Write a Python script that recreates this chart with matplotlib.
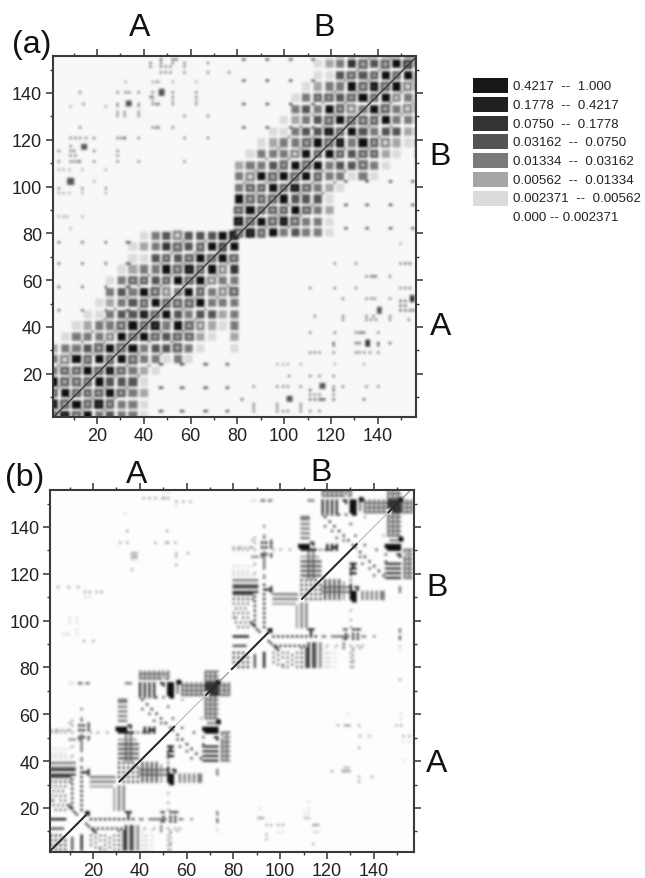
import numpy as np
import matplotlib
matplotlib.use('Agg')
import matplotlib.pyplot as plt
from matplotlib.patches import Rectangle

plt.rcParams['font.family'] = ['Liberation Sans', 'DejaVu Sans']

W, H = 645, 879

# legend classes, darkest first
legend_labels = ['0.4217  --  1.000', '0.1778  --  0.4217', '0.0750  --  0.1778',
                 '0.03162  --  0.0750', '0.01334  --  0.03162', '0.00562  --  0.01334',
                 '0.002371  --  0.00562', '0.000 -- 0.002371']
legend_grays = [0.09, 0.13, 0.2, 0.33, 0.48, 0.65, 0.86]
# gray of level 0..7
level_gray = [1.0, 0.86, 0.65, 0.48, 0.33, 0.2, 0.13, 0.06]

cells_a = [
    'cfc73433100000000',
    'fc7cfc33100000000',
    'c7ccc7c3200000000',
    '7ccc7444100000000',
    '3cc7cfc3210000000',
    '3b7c7c7c331310000',
    '2334c7c7344c31001',
    '01333b7c7c4cc2102',
    '001233c7cf37cb213',
    '00011344fc7434423',
    '00001234c7ccc7333',
    '000003437cb37c3bc',
    '0000013cc4c7c7b33',
    '00000012337cfc7b5',
    '0000000114c4c7c7c',
    '00000001235c4c7d7',
    '00000000134b4447f',
]
block_shift_a = (78.8, 78.0)

# (a): off-band contacts (y, x values, level)
far_a = [
    (153.8, [47, 52, 53.4], 4), (152.4, [42.7, 47, 52, 56.9, 66.9], 3), (151, [42.7, 47, 49, 51.2, 56.9], 3),
    (148.5, [47, 49, 51.2, 56.9, 66.9, 76.1], 3), (144.6, [32, 43.4, 44.8, 46.2, 51.9, 61.9], 2),
    (140, [12.7, 28.4, 32, 33.4, 37.7, 43.4, 51.9, 61.9], 3), (138, [42.7, 43.4, 51.9, 61.9], 3),
    (136.4, [43.4, 51.9, 61.9], 2), (135, [14, 28.4, 37.7, 43.4, 44.8, 46.2, 51.9, 61.9], 3),
    (133.9, [8.5, 23.4, 28.4, 37.7], 2), (131.7, [28.4, 31.5, 37.7], 3), (130, [28.4, 31.5, 37.7, 56.9, 66.9], 3),
    (125, [12.7, 43.4, 44.8, 46.2, 51.9], 3), (120.6, [8.5, 10.6, 12.7, 14.9, 18.4, 28.4, 29.8, 37.7, 56.9, 66.9], 3),
    (120.6, [31.5], 5), (116.8, [8.5], 3), (115, [3.5, 8.5, 10, 18.4, 28.4], 3), (113, [8.5, 10.6, 28.4], 3),
    (110.6, [3.5, 8.5, 10, 11.5, 12.7, 18.4, 28.4, 37.7, 56.9], 3), (106.8, [3.5, 5.6, 7.8, 13.5, 23.4], 2),
    (102, [18.4], 2), (99, [3.5, 13.5, 23.4], 3), (97, [3.5, 5.6, 7.8, 13.5, 23.4], 2),
    (86.9, [3.5, 5.6, 7.2, 13.5], 2), (81.9, [8.5], 2),
    (75.5, [149], 2), (67, [120.9, 129.8, 148.9], 3), (67, [150.8, 153], 4),
    (61.7, [134.4, 136.5, 137.5, 138.7, 144.4], 3), (56.7, [110.6, 120.9, 129.8, 149, 150.8, 153], 3),
    (52, [124.4, 134.4, 136.5, 138, 144.4], 3), (50.8, [149, 151], 4), (48.9, [149, 151], 4),
    (47, [149, 151, 153, 154.5], 4), (44.6, [112.3, 124.4, 134.4, 137.3, 144.4], 3),
    (43.2, [124.4, 134.4, 136.5, 138.7, 144.4, 152.6], 3), (37.7, [110.6, 120.9, 129.8, 131.6, 132.6, 133.7, 139.7], 3),
    (33, [120.6, 129.8, 131.6, 139.7, 144.4], 4), (31.8, [120.6, 139.7], 3),
    (28.9, [110.6, 112.3, 114.5, 120.6, 129.8, 131.6, 133.7, 135.8, 139.7], 3),
    (23.9, [96.7, 98.8, 101, 106.3, 120.9, 133.7], 2), (19.2, [101.6, 110.6, 114.5, 120.6], 3),
    (14.7, [86.4, 96.7, 98.8, 101, 106.3, 120.6, 124.4, 134.4, 139.4], 3), (13, [110.6, 120.6], 4),
    (11, [110.6, 112.3, 114.5, 120.6], 3), (9.2, [81.4, 110.6, 112.3, 114.5, 115.5, 116.6, 120.6, 133.7], 4),
    (7, [86.4, 96.7, 106.3], 3), (5.5, [86.4, 96.7, 106.3], 3), (4, [86.4, 96.7, 98.8, 101, 106.3, 110.6, 114.5], 3),
]
# (a): larger blobs (x, y, level)
blobs_a = [(47.4, 140, 4), (33.4, 135.3, 4), (14.2, 116.8, 4), (8.5, 102, 4), (140, 47, 4), (154, 52, 5),
           (135, 33, 5), (115.9, 14.7, 4), (101.6, 9.2, 4)]
# (a): regular dots outside the bands
grid_xs_a = [3.5, 13.5, 23.5, 33]
grid_ys_a = [47, 57, 67, 76]
grid_xs2_a = [47, 56, 66, 75.4]
grid_ys2_a = [4, 14, 24]

# (b): contacts of one chain, (residues i, residues j, level); the map is symmetric
R = lambda a, b, s=1: list(range(a, b + 1, s))
contacts_b = [
    (R(2, 12), [39], 3), (R(2, 12), [37], 3), (R(2, 12), [36], 5), (R(2, 12), [34], 5), (R(2, 10), [33], 4),
    (R(2, 10, 2), [31], 4), (R(2, 8, 2), [29], 3), (R(3, 7, 2), [27], 3), ([2, 4, 6, 8], [25], 3),
    ([2, 3, 6, 8], [23], 3), ([3, 5, 7, 10], [21], 3), ([4, 6, 8, 11], [19], 3),
    ([15], R(19, 38, 2), 6), ([11], R(20, 37, 2), 5), ([13], [17], 5), ([12], [18], 5), ([10], [20], 5),
    ([9], [21], 4), (R(2, 7), [11], 4), (R(2, 8), [15], 6), (R(2, 6, 2), R(4, 8, 2), 5),
    ([15], [41, 45, 47, 49, 51, 53, 55, 58, 62], 3), ([14, 16, 18], [55, 53, 50], 5),
    ([2, 4, 5, 7, 9, 10], [53], 2), ([10, 12, 14], [49], 3), (R(2, 10, 2), [45], 1), (R(2, 10, 2), [41], 1), ([10], [56], 2),
    ([14], [73], 4), ([17, 18], [73], 3), ([10], [73], 1), ([35, 36], [73], 3),
    ([16, 17, 18], [35], 5), (R(19, 29), [33], 3), (R(19, 29), [31], 3), (R(19, 28), [29], 2),
    (R(31, 38, 2), R(33, 39, 2), 5), (R(31, 39), R(41, 47, 2), 4), (R(31, 38), [49], 2),
    (R(31, 37), [52], 6), ([39, 41, 43], [52], 3), ([45, 46], [53], 6), ([35, 36], [55], 5), ([36], [54], 5),
    (R(31, 34), [57, 59, 61, 63, 65, 66], 3),
    ([41], [66], 5), ([43], [64], 5), ([45], [62], 5), ([47], [60], 5), ([49], [58], 5), ([51], [56], 5), ([53], [54], 5),
    ([47], [67], 4), ([50], [67], 4), ([52], [63], 4), ([54], [58], 4), ([41], [62], 4), ([44], [60], 4), ([46], [57], 4), ([49], [56], 4),
    (R(40, 52, 2), [78, 76], 3), (R(41, 51, 2), [77, 75], 3), (R(40, 46, 2), R(67, 72), 4), ([53, 54], R(67, 73), 7), ([49, 54, 56], [73], 6),
    (R(58, 67), [68, 70, 72], 3), ([58], [66], 2),
    (R(68, 73), [74, 76, 78], 3), (R(68, 72), R(70, 73), 5), (R(74, 78), [68, 70, 72], 3), ([73, 74], [73, 74], 7),
    (R(69, 73), R(56, 66, 2), 3), ([73, 74], [56, 57], 7), (R(68, 73), [52], 7), (R(75, 78), [52], 3), ([72, 73], [50], 5), ([76, 77, 78], [50], 2),
    (R(68, 73), R(40, 46, 2), 5), (R(75, 78), R(40, 49, 2), 3), ([73], [34, 36], 3),
    ([52, 53, 54], [42, 44, 46], 6), ([53, 54], R(30, 34), 7), ([52], [26, 22, 19, 8, 6, 4, 2], 2), (R(40, 52), [36, 34], 3),
    ([34, 35, 36], [18], 5), ([49, 54, 56, 73], [18], 3), ([40, 44, 46, 48, 50, 53, 55, 57, 73], [15], 3),
    ([42, 46, 49, 52, 55, 57], [11], 2), ([73], [11], 1), ([42, 43], [2, 4, 6, 8], 1),
]
# (b): faint contacts between the chains, (y, x values, level)
far_b = [
    (154.8, [50, 52], 1), (152, [41.5, 44.3, 46.5, 49.4, 50.5, 52.3], 2), (150.8, [55.8, 58.6, 61.5], 2),
    (148.7, [55.8], 1), (145.5, [33.7], 1), (138, [34.4, 51.5], 2), (133.4, [31.5, 34.4, 46.5, 51, 52, 55], 2),
    (128.9, [36.5, 37.5, 38.7, 55.8, 60.7], 2), (127, [36.5, 37.5, 38.7, 55.8], 2), (126, [36.5, 37.5, 38.7], 1),
    (123.8, [55.8], 2), (121.8, [36.5], 2), (114.2, [5.2, 9.5, 13.7], 2), (112, [16.6, 18.7, 21.6, 23.7], 2),
    (110, [16.6, 18.7], 1), (101.4, [9.9, 13.3], 1), (99.3, [9.9, 13.3], 1), (96, [13.3], 1),
    (94.3, [7.3, 8.4, 9.5, 13.3], 1), (91, [16, 20], 2),
    (74.6, [151.3], 2), (60, [129.3, 151.5], 1), (57.8, [151.5], 1),
    (55, [124.4, 127.5, 128.6, 129.7, 133.5, 149.6, 151.5], 2), (50.7, [134, 138.2, 152.5, 155.3], 2),
    (48, [152.5, 155.3], 1), (45.7, [133.5], 2), (40, [152.5], 1), (37, [127.5, 129], 2),
    (35.7, [122.3, 126.8, 127.8, 128.8, 129.7], 2), (33, [133.5, 139.2], 2), (31.4, [133.5], 2),
    (22.9, [112.3], 1), (19.8, [91.2, 112.3], 1), (17.6, [110.5, 112.3], 1), (15.8, [90.5, 91.6, 92.7, 110.5, 112.3], 2),
    (12.6, [94, 96.2, 99, 101.2, 114, 115, 116], 2), (9.6, [99, 101.2, 114, 115, 116], 1),
    (8.6, [94], 2), (6.8, [94], 2), (4.7, [114], 2),
]
# (b): diagonal stretches of one chain (from, to, level)
diag_b = [(1, 17, 7), (31, 55, 7), (55, 68, 2), (68, 74, 7), (74, 78, 3)]


def px_box(left, top, right, bottom):
    return [left / W, 1 - bottom / H, (right - left) / W, (bottom - top) / H]


def px(x, y):
    return x / W, 1 - y / H


class Raster:
    def __init__(self, xlim, ylim, paper, step=0.5):
        self.xlim, self.ylim, self.step = xlim, ylim, step
        nx = int((xlim[1] - xlim[0]) / step)
        ny = int((ylim[1] - ylim[0]) / step)
        self.m = np.full((ny, nx), paper)

    def stamp(self, x, y, w, h, gray, force=False):
        x0 = int(round((x - w / 2 - self.xlim[0]) / self.step))
        x1 = int(round((x + w / 2 - self.xlim[0]) / self.step))
        y0 = int(round((y - h / 2 - self.ylim[0]) / self.step))
        y1 = int(round((y + h / 2 - self.ylim[0]) / self.step))
        x0, y0 = max(x0, 0), max(y0, 0)
        x1 = max(x1, x0 + 1)
        y1 = max(y1, y0 + 1)
        if force:
            self.m[y0:y1, x0:x1] = gray
        else:
            self.m[y0:y1, x0:x1] = np.minimum(self.m[y0:y1, x0:x1], gray)

    def blurred(self):
        # soften like the scan of the printed page
        kernel = np.array([1, 4, 6, 4, 1]) / 16
        m = np.pad(self.m, 2, mode='edge')
        m = np.apply_along_axis(lambda v: np.convolve(v, kernel, mode='same'), 0, m)
        m = np.apply_along_axis(lambda v: np.convolve(v, kernel, mode='same'), 1, m)
        return m[2:-2, 2:-2]


def cell_value(ch):
    if ch.isdigit():
        return int(ch), False
    return 'abcdefg'.index(ch) + 1, True


def draw_block_a(r, dx, dy):
    size = len(cells_a)
    pitch = 4.8
    for j, row in enumerate(cells_a):
        for i, ch in enumerate(row):
            level, ring = cell_value(ch)
            if level == 0:
                continue
            x = 1.35 + pitch * i + dx
            y = 2.1 + pitch * j + dy
            if ring:
                # dark rim, pale middle
                r.stamp(x, y, 3.8, 3.8, level_gray[min(level + 1, 7)])
                r.stamp(x, y, 1.8, 1.8, level_gray[max(level - 1, 1)], force=True)
            else:
                r.stamp(x, y, 3.6, 3.6, level_gray[level])
    # dark dots where the white lattice lines cross inside the band
    for j in range(size - 1):
        for i in range(size - 1):
            if abs(i - j) < 6 and (i + j) % 2 == 0:
                r.stamp(1.35 + pitch * (i + 0.5) + dx, 2.1 + pitch * (j + 0.5) + dy, 1.0, 1.0, level_gray[3])


def style_axes(ax):
    ax.set_xticks(range(20, 141, 20))
    ax.set_yticks(range(20, 141, 20))
    ax.set_xticks(range(10, 151, 20), minor=True)
    ax.set_yticks(range(10, 151, 20), minor=True)
    ax.tick_params(which='major', direction='out', length=5, width=1.1, top=True, right=True,
                   labelsize=13, color='#333333', labelcolor='#222222', pad=2.5)
    ax.tick_params(which='minor', direction='out', length=2.5, width=1.0, top=True, right=True, color='#333333')
    for s in ax.spines.values():
        s.set_linewidth(1.5)
        s.set_color('#3a3a3a')


fig = plt.figure(figsize=(W / 100, H / 100), dpi=100)

# panel (a)
xlim_a, ylim_a = (1.0, 156.3), (1.5, 155.8)
ra = Raster(xlim_a, ylim_a, 0.97)
draw_block_a(ra, 0, 0)
draw_block_a(ra, *block_shift_a)
for y, xs, level in far_a:
    for x in xs:
        ra.stamp(x, y, 1.0, 1.0, level_gray[level])
for x, y, level in blobs_a:
    ra.stamp(x, y, 2.5, 2.5, level_gray[level])
for x in grid_xs_a:
    for y in grid_ys_a:
        ra.stamp(x, y, 1.5, 1.5, level_gray[4])
        ra.stamp(x + block_shift_a[0], y + block_shift_a[1], 1.5, 1.5, level_gray[4])
for x in grid_xs2_a:
    for y in grid_ys2_a:
        ra.stamp(x, y, 1.5, 1.5, level_gray[4])
        ra.stamp(x + block_shift_a[0], y + block_shift_a[1], 1.5, 1.5, level_gray[4])

ax_a = fig.add_axes(px_box(52.5, 57, 416, 418))
ax_a.imshow(ra.blurred(), origin='lower', extent=[*xlim_a, *ylim_a], cmap='gray', vmin=0, vmax=1,
            aspect='auto', interpolation='bilinear')
ax_a.plot([1, 78], [1, 78], color='#3a3a3a', lw=1.0)
ax_a.plot([80, 156], [79, 155], color='#3a3a3a', lw=1.0)
style_axes(ax_a)
ax_a.set_xlim(xlim_a)
ax_a.set_ylim(ylim_a)

# panel (b)
xlim_b, ylim_b = (1.6, 157.2), (1.2, 155.8)
rb = Raster(xlim_b, ylim_b, 0.99)
for shift in (0, 78):
    for xs, ys, level in contacts_b:
        for i in xs:
            for j in ys:
                rb.stamp(i + shift, j + shift, 1.0, 1.0, level_gray[level])
                rb.stamp(j + shift, i + shift, 1.0, 1.0, level_gray[level])
    rb.stamp(17.7 + shift, 17.7 + shift, 2.0, 2.0, level_gray[7])
for y, xs, level in far_b:
    for x in xs:
        rb.stamp(x, y, 1.0, 1.0, level_gray[level])

ax_b = fig.add_axes(px_box(50, 491, 414, 853))
ax_b.imshow(rb.blurred(), origin='lower', extent=[*xlim_b, *ylim_b], cmap='gray', vmin=0, vmax=1,
            aspect='auto', interpolation='bilinear')
for shift in (0, 78):
    for a, b, level in diag_b:
        ax_b.plot([a + shift, b + shift], [a + shift, b + shift], color=str(level_gray[level] + 0.1),
                  lw=1.5 if level > 3 else 0.9, solid_capstyle='butt')
style_axes(ax_b)
ax_b.set_xlim(xlim_b)
ax_b.set_ylim(ylim_b)

# legend
for i, g in enumerate(legend_grays):
    fig.add_artist(Rectangle(px(472.7, 94.3 + 18.7 * i), 35.6 / W, 15 / H, transform=fig.transFigure,
                             facecolor=str(g), edgecolor='none'))
for i, label in enumerate(legend_labels):
    fig.text(*px(512.7, 87.3 + 18.7 * i), label, fontsize=9.6, va='center', ha='left', color='#222222')

# letters
big = dict(fontsize=23, ha='center', va='center', color='#111111')
fig.text(*px(32, 45), '(a)', **big)
fig.text(*px(140, 28), 'A', **big)
fig.text(*px(324, 28), 'B', **big)
fig.text(*px(440, 157), 'B', **big)
fig.text(*px(441, 327), 'A', **big)
fig.text(*px(25, 478), '(b)', **big)
fig.text(*px(137, 475), 'A', **big)
fig.text(*px(321, 473), 'B', **big)
fig.text(*px(437, 588), 'B', **big)
fig.text(*px(437, 764), 'A', **big)

fig.savefig('out.png', dpi=100)
